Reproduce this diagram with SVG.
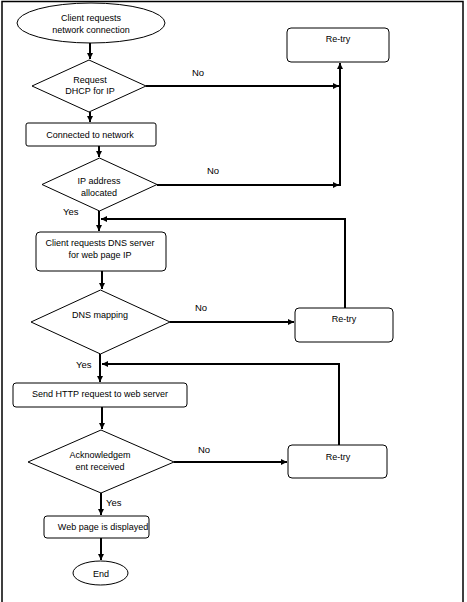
<svg xmlns="http://www.w3.org/2000/svg" width="467" height="602" viewBox="0 0 467 602">
<defs>
<style>
.s{fill:#fff;stroke:#000;stroke-width:1}
.c{fill:none;stroke:#000;stroke-width:2}
.t{font-family:"Liberation Sans",Arial,sans-serif;font-size:9px;fill:#000;text-anchor:middle}
.l{font-family:"Liberation Sans",Arial,sans-serif;font-size:9.5px;fill:#000}
</style>
<marker id="a" markerUnits="userSpaceOnUse" markerWidth="7" markerHeight="7" refX="6" refY="3" orient="auto">
<path d="M0,0 L6,3 L0,6 z" fill="#000"/>
</marker>
</defs>
<rect width="467" height="602" fill="#fff"/>
<path d="M2,602 V1.5 H463 V602" fill="none" stroke="#000" stroke-width="1.5"/>

<g id="connectors">
<path class="c" d="M90,43 V59" marker-end="url(#a)"/>
<path class="c" d="M90,112 V122" marker-end="url(#a)"/>
<path class="c" d="M146,86 H339" marker-end="url(#a)"/>
<path class="c" d="M340,186 V63" marker-end="url(#a)"/>
<path class="c" d="M157,185 H339" marker-end="url(#a)"/>
<path class="c" d="M99,146 V157" marker-end="url(#a)"/>
<path class="c" d="M99,211 V231" marker-end="url(#a)"/>
<path class="c" d="M345,308 V219 H101" marker-end="url(#a)"/>
<path class="c" d="M102,271 V289" marker-end="url(#a)"/>
<path class="c" d="M170,322 H294" marker-end="url(#a)"/>
<path class="c" d="M100,354 V382" marker-end="url(#a)"/>
<path class="c" d="M339,445 V364 H102" marker-end="url(#a)"/>
<path class="c" d="M102,407 V429" marker-end="url(#a)"/>
<path class="c" d="M174,462 H287" marker-end="url(#a)"/>
<path class="c" d="M101,493 V515" marker-end="url(#a)"/>
<path class="c" d="M101,538 V560" marker-end="url(#a)"/>
</g>

<g id="labels">
<text class="l" x="192" y="76">No</text>
<text class="l" x="207" y="174">No</text>
<text class="l" x="63" y="215">Yes</text>
<text class="l" x="195" y="311">No</text>
<text class="l" x="76" y="368">Yes</text>
<text class="l" x="198" y="453">No</text>
<text class="l" x="106" y="506">Yes</text>
</g>

<g id="start">
<ellipse class="s" cx="91" cy="23" rx="74" ry="20"/>
<text class="t" x="91" y="21">Client requests</text>
<text class="t" x="91" y="33">network connection</text>
</g>

<g id="dhcp">
<polygon class="s" points="89,60 146,86 89,112 32,86"/>
<text class="t" x="90" y="83">Request</text>
<text class="t" x="90" y="94">DHCP for IP</text>
</g>

<g id="retry1">
<rect class="s" x="287" y="28" width="102" height="34" rx="4"/>
<text class="t" x="338" y="42">Re-try</text>
</g>

<g id="connected">
<rect class="s" x="26" y="123" width="130" height="23" rx="2"/>
<text class="t" x="90" y="138">Connected to network</text>
</g>

<g id="ipalloc">
<polygon class="s" points="99.5,158 157,184.5 99.5,211 42,184.5"/>
<text class="t" x="99" y="184">IP address</text>
<text class="t" x="99" y="196">allocated</text>
</g>

<g id="dnsreq">
<rect class="s" x="36" y="232" width="130" height="39" rx="4"/>
<text class="t" x="100" y="246">Client requests DNS server</text>
<text class="t" x="100" y="258">for web page IP</text>
</g>

<g id="dnsmap">
<polygon class="s" points="100.5,290 170,322 100.5,354 31,322"/>
<text class="t" x="100" y="318">DNS mapping</text>
</g>

<g id="retry2">
<rect class="s" x="295" y="308" width="98" height="34" rx="4"/>
<text class="t" x="344" y="322">Re-try</text>
</g>

<g id="http">
<rect class="s" x="13" y="383" width="174" height="24" rx="3"/>
<text class="t" x="100" y="397">Send HTTP request to web server</text>
</g>

<g id="ack">
<polygon class="s" points="101,430 174,462 101,493 28,462"/>
<text class="t" x="100" y="458">Acknowledgem</text>
<text class="t" x="100" y="470">ent received</text>
</g>

<g id="retry3">
<rect class="s" x="288" y="445" width="99" height="33" rx="4"/>
<text class="t" x="338" y="460">Re-try</text>
</g>

<g id="webpage">
<rect class="s" x="44" y="516" width="105" height="22" rx="3"/>
<text class="t" x="103" y="530">Web page is displayed</text>
</g>

<g id="end">
<ellipse class="s" cx="100.5" cy="573" rx="27.5" ry="12"/>
<text class="t" x="101" y="577">End</text>
</g>
</svg>
